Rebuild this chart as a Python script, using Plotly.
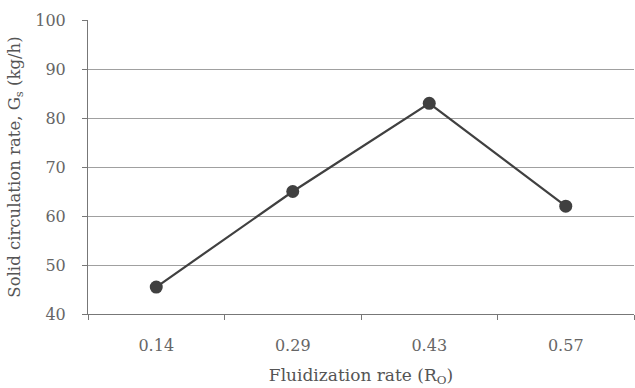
import plotly.graph_objects as go

categories = ["0.14", "0.29", "0.43", "0.57"]
values = [45.5, 65.0, 83.0, 62.0]
y_ticks = [40, 50, 60, 70, 80, 90, 100]

font = "DejaVu Serif, serif"

fig = go.Figure()
fig.add_trace(go.Scatter(
    x=categories, y=values, mode="lines+markers",
    line=dict(color="#404040", width=2.2),
    marker=dict(color="#404040", size=13),
    showlegend=False,
))

fig.update_layout(
    width=635, height=388,
    margin=dict(l=88, r=1, t=20, b=74),
    paper_bgcolor="white", plot_bgcolor="white",
    font=dict(family=font, size=14, color="#555555"),
)
fig.update_xaxes(
    type="category", tickson="boundaries", ticks="outside", ticklen=5,
    tickcolor="#777777", showline=True, linecolor="#777777", linewidth=1,
    showgrid=False, range=[-0.5, 3.5], ticklabelstandoff=17,
    title=dict(text="Fluidization rate (R<sub>O</sub>)", font=dict(family=font, size=17, color="#555555"), standoff=14),
    tickfont=dict(family=font, size=16, color="#666666"),
)
fig.update_yaxes(
    range=[40, 100], tickvals=y_ticks, ticks="outside", ticklen=5,
    tickcolor="#777777", showline=True, linecolor="#777777", linewidth=1,
    showgrid=True, gridcolor="#a0a0a0", gridwidth=1, zeroline=False,
    ticklabelstandoff=13,
    title=dict(text="Solid circulation rate, G<sub>s</sub> (kg/h)", font=dict(family=font, size=16.5, color="#555555"), standoff=10),
    tickfont=dict(family=font, size=16, color="#666666"),
)

fig.write_html("out.html")
